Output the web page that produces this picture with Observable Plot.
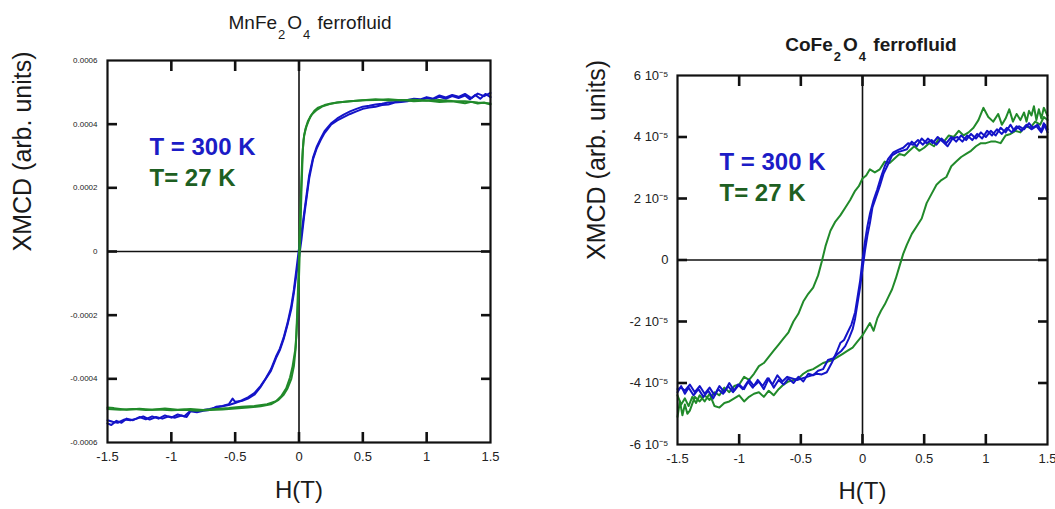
<!DOCTYPE html>
<html>
<head>
<meta charset="utf-8">
<script src="https://cdn.jsdelivr.net/npm/d3@7"></script>
<script src="https://cdn.jsdelivr.net/npm/@observablehq/plot@0.6"></script>
<style>
  body { margin: 0; background: #fff; }
  #wrap { position: relative; width: 1055px; height: 509px; font-family: "Liberation Sans", Arial, sans-serif; }
  #left, #right { position: absolute; top: 0; }
  #left { left: 0; }
  #right { left: 527px; }
  .title { position: absolute; font-size: 19px; line-height: 1; color: #1a1a1a; white-space: nowrap; transform: translateX(-50%); }
  .title sub { font-size: 13px; vertical-align: -10px; line-height: 0; margin: 0 2px 0 1px; }
</style>
</head>
<body>
<div id="wrap">
  <div id="left"></div>
  <div id="right"></div>
  <div class="title" style="left:310px; top:13px;">MnFe<sub>2</sub>O<sub>4</sub> ferrofluid</div>
  <div class="title" style="left:871px; top:35px; font-weight:bold;">CoFe<sub>2</sub>O<sub>4</sub> ferrofluid</div>
</div>
<script>
// ---------- Data (H in tesla, XMCD in units of the axis scale) ----------
const xTickValues = [-1.5, -1, -0.5, 0, 0.5, 1, 1.5];
const mnYTicks = [-6, -4, -2, 0, 2, 4, 6];        // x 1e-4
const coYTicks = [-6, -4, -2, 0, 2, 4, 6];        // x 1e-5
const labels300 = "T = 300 K";
const labels27 = "T= 27 K";

// Left panel: MnFe2O4, XMCD in units of 1e-4
const mn300Down = [
 [1.50,4.85],[1.46,4.95],[1.42,4.80],[1.38,4.92],[1.34,4.78],[1.30,4.90],[1.25,4.82],[1.20,4.88],[1.15,4.80],[1.10,4.86],
 [1.05,4.78],[1.00,4.82],[0.95,4.75],[0.90,4.78],[0.85,4.72],[0.80,4.70],[0.75,4.68],[0.70,4.62],[0.65,4.60],[0.60,4.55],
 [0.55,4.52],[0.50,4.48],[0.45,4.40],[0.40,4.32],[0.35,4.22],[0.30,4.12],[0.25,3.98],[0.20,3.72],[0.17,3.50],[0.14,3.25],
 [0.11,2.90],[0.08,2.30],[0.06,1.70],[0.04,1.10],[0.02,0.40],[0.00,-0.20],[-0.02,-0.70],[-0.04,-1.30],[-0.06,-1.80],[-0.09,-2.30],
 [-0.12,-2.75],[-0.15,-3.10],[-0.18,-3.35],[-0.22,-3.75],[-0.26,-4.00],[-0.30,-4.25],[-0.35,-4.50],[-0.40,-4.62],[-0.45,-4.70],[-0.50,-4.72],
 [-0.52,-4.62],[-0.55,-4.80],[-0.60,-4.85],[-0.65,-4.88],[-0.70,-4.98],[-0.75,-5.00],[-0.80,-5.05],[-0.85,-5.02],[-0.88,-5.20],[-0.92,-5.15],
 [-0.97,-5.22],[-1.02,-5.18],[-1.07,-5.25],[-1.12,-5.20],[-1.17,-5.28],[-1.22,-5.18],[-1.27,-5.25],[-1.32,-5.30],[-1.37,-5.28],[-1.42,-5.38],
 [-1.46,-5.35],[-1.50,-5.30]
];
const mn300Up = [
 [-1.50,-5.40],[-1.47,-5.45],[-1.43,-5.32],[-1.39,-5.38],[-1.35,-5.25],[-1.30,-5.30],[-1.25,-5.20],[-1.20,-5.27],[-1.15,-5.18],[-1.10,-5.25],
 [-1.05,-5.15],[-1.00,-5.22],[-0.95,-5.12],[-0.90,-5.18],[-0.85,-5.00],[-0.80,-5.02],[-0.75,-4.98],[-0.70,-4.95],[-0.65,-4.90],[-0.60,-4.86],
 [-0.55,-4.82],[-0.50,-4.76],[-0.45,-4.68],[-0.40,-4.58],[-0.35,-4.45],[-0.30,-4.22],[-0.26,-3.98],[-0.22,-3.70],[-0.18,-3.30],[-0.15,-3.05],
 [-0.12,-2.70],[-0.09,-2.25],[-0.06,-1.70],[-0.04,-1.20],[-0.02,-0.55],[0.00,0.10],[0.02,0.60],[0.04,1.20],[0.06,1.80],[0.08,2.40],
 [0.11,2.95],[0.14,3.30],[0.17,3.55],[0.20,3.78],[0.25,4.02],[0.30,4.18],[0.35,4.30],[0.40,4.40],[0.45,4.48],[0.50,4.55],
 [0.55,4.58],[0.60,4.62],[0.65,4.64],[0.70,4.68],[0.75,4.70],[0.80,4.74],[0.85,4.76],[0.90,4.80],[0.95,4.78],[1.00,4.85],
 [1.05,4.80],[1.10,4.90],[1.15,4.84],[1.20,4.92],[1.25,4.86],[1.30,4.95],[1.35,4.82],[1.40,4.96],[1.45,4.88],[1.50,4.98]
];
const mn27Down = [
 [1.50,4.62],[1.45,4.68],[1.40,4.65],[1.35,4.70],[1.30,4.66],[1.20,4.72],[1.10,4.70],[1.00,4.74],[0.90,4.72],[0.80,4.76],
 [0.70,4.74],[0.60,4.78],[0.50,4.75],[0.40,4.72],[0.30,4.68],[0.25,4.65],[0.20,4.60],[0.15,4.52],[0.12,4.42],[0.09,4.25],
 [0.06,3.95],[0.04,3.65],[0.03,3.20],[0.02,2.00],[0.01,0.50],[0.00,-0.80],[-0.01,-1.80],[-0.02,-2.60],[-0.03,-3.10],[-0.05,-3.60],
 [-0.07,-3.95],[-0.10,-4.30],[-0.14,-4.55],[-0.18,-4.70],[-0.25,-4.80],[-0.35,-4.85],[-0.45,-4.88],[-0.55,-4.92],[-0.65,-4.95],[-0.75,-4.98],
 [-0.85,-4.95],[-0.95,-4.97],[-1.05,-4.93],[-1.15,-4.97],[-1.25,-4.94],[-1.35,-4.97],[-1.45,-4.92],[-1.50,-4.90]
];
const mn27Up = [
 [-1.50,-4.95],[-1.40,-4.97],[-1.30,-4.95],[-1.20,-4.98],[-1.10,-4.96],[-1.00,-4.99],[-0.90,-4.97],[-0.80,-5.00],[-0.70,-4.98],[-0.60,-4.96],
 [-0.50,-4.93],[-0.40,-4.90],[-0.30,-4.86],[-0.22,-4.80],[-0.16,-4.66],[-0.12,-4.50],[-0.09,-4.30],[-0.06,-4.00],[-0.04,-3.60],[-0.025,-3.00],
 [-0.015,-2.00],[-0.005,-0.80],[0.005,0.60],[0.015,1.80],[0.025,2.90],[0.035,3.50],[0.05,3.85],[0.07,4.10],[0.10,4.30],[0.14,4.45],
 [0.18,4.55],[0.24,4.63],[0.30,4.68],[0.40,4.72],[0.50,4.75],[0.60,4.76],[0.70,4.78],[0.80,4.75],[0.90,4.77],[1.00,4.74],
 [1.10,4.76],[1.20,4.73],[1.30,4.72],[1.40,4.68],[1.50,4.65]
];

// Right panel: CoFe2O4, XMCD in units of 1e-5
const co300Down = [
 [1.50,4.15],[1.47,4.45],[1.45,4.20],[1.42,4.40],[1.38,4.30],[1.35,4.45],[1.31,4.25],[1.27,4.35],[1.23,4.20],[1.20,4.40],
 [1.16,4.15],[1.12,4.30],[1.08,4.05],[1.04,4.20],[1.00,4.00],[0.96,4.15],[0.92,3.95],[0.88,4.10],[0.84,3.90],[0.80,4.05],
 [0.76,3.85],[0.72,4.00],[0.68,3.80],[0.64,3.95],[0.60,3.75],[0.56,3.90],[0.52,3.80],[0.48,3.95],[0.44,3.70],[0.40,3.85],
 [0.36,3.60],[0.32,3.55],[0.28,3.50],[0.24,3.40],[0.20,3.05],[0.17,2.80],[0.14,2.40],[0.11,2.05],[0.08,1.70],[0.06,1.20],
 [0.04,0.80],[0.02,0.30],[0.00,-0.30],[-0.02,-0.90],[-0.04,-1.40],[-0.06,-1.90],[-0.08,-2.25],[-0.11,-2.55],[-0.14,-2.80],[-0.17,-2.95],
 [-0.20,-3.05],[-0.24,-3.20],[-0.28,-3.25],[-0.32,-3.55],[-0.36,-3.60],[-0.40,-3.75],[-0.44,-3.70],[-0.48,-3.95],[-0.52,-3.80],[-0.56,-4.00],
 [-0.60,-3.85],[-0.64,-4.05],[-0.68,-3.90],[-0.72,-4.15],[-0.76,-3.85],[-0.80,-4.20],[-0.84,-3.95],[-0.88,-4.10],[-0.92,-3.90],[-0.96,-4.20],
 [-1.00,-4.05],[-1.04,-4.25],[-1.08,-4.00],[-1.12,-4.30],[-1.16,-4.10],[-1.20,-4.40],[-1.24,-4.15],[-1.28,-4.35],[-1.32,-4.10],[-1.36,-4.30],
 [-1.40,-4.05],[-1.44,-4.25],[-1.47,-4.15],[-1.50,-4.20]
];
const co300Up = [
 [-1.50,-4.30],[-1.47,-4.10],[-1.44,-4.35],[-1.41,-4.15],[-1.37,-4.40],[-1.33,-4.20],[-1.29,-4.45],[-1.25,-4.25],[-1.21,-4.50],[-1.17,-4.20],
 [-1.13,-4.35],[-1.09,-4.10],[-1.05,-4.30],[-1.01,-4.05],[-0.97,-4.20],[-0.93,-3.95],[-0.89,-4.15],[-0.85,-3.90],[-0.81,-4.10],[-0.77,-3.85],
 [-0.73,-4.05],[-0.69,-3.75],[-0.65,-3.95],[-0.61,-3.80],[-0.57,-3.85],[-0.53,-3.90],[-0.49,-3.85],[-0.45,-3.80],[-0.41,-3.75],[-0.37,-3.70],
 [-0.33,-3.72],[-0.29,-3.65],[-0.25,-3.35],[-0.21,-3.00],[-0.18,-2.70],[-0.15,-2.60],[-0.12,-2.35],[-0.09,-2.10],[-0.06,-1.70],[-0.04,-1.20],
 [-0.02,-0.70],[0.00,0.00],[0.02,0.60],[0.04,1.10],[0.06,1.50],[0.09,1.95],[0.12,2.30],[0.15,2.70],[0.18,3.05],[0.21,3.30],
 [0.25,3.50],[0.29,3.58],[0.33,3.65],[0.37,3.80],[0.41,3.75],[0.45,3.90],[0.49,3.75],[0.53,3.95],[0.57,3.80],[0.61,4.00],
 [0.65,3.85],[0.69,3.70],[0.73,3.95],[0.77,4.00],[0.81,3.85],[0.85,4.05],[0.89,3.90],[0.93,4.10],[0.97,3.95],[1.01,4.20],
 [1.05,4.05],[1.09,4.25],[1.13,4.10],[1.17,4.30],[1.21,4.15],[1.25,4.35],[1.29,4.20],[1.33,4.40],[1.37,4.25],[1.41,4.35],
 [1.45,4.15],[1.48,4.40],[1.50,4.25]
];
const co27Down = [
 [1.50,4.70],[1.47,4.95],[1.45,4.60],[1.43,4.90],[1.41,4.55],[1.39,5.00],[1.37,4.70],[1.35,4.85],[1.33,4.50],[1.31,4.80],
 [1.28,4.55],[1.25,4.75],[1.22,4.50],[1.19,4.90],[1.16,4.60],[1.13,4.40],[1.10,4.75],[1.06,4.50],[1.02,4.65],[0.98,4.95],
 [0.94,4.55],[0.90,4.30],[0.86,4.15],[0.82,4.05],[0.78,4.20],[0.74,4.00],[0.70,4.05],[0.66,3.85],[0.62,3.95],[0.58,3.70],
 [0.54,3.80],[0.50,3.65],[0.46,3.55],[0.42,3.70],[0.38,3.55],[0.34,3.40],[0.30,3.45],[0.26,3.30],[0.22,3.15],[0.18,3.20],
 [0.14,2.95],[0.10,2.85],[0.06,2.95],[0.03,2.75],[0.00,2.65],[-0.03,2.40],[-0.06,2.25],[-0.10,1.95],[-0.14,1.70],[-0.18,1.45],
 [-0.22,1.25],[-0.26,0.95],[-0.30,0.45],[-0.33,-0.05],[-0.36,-0.50],[-0.40,-0.90],[-0.44,-1.10],[-0.48,-1.35],[-0.52,-1.75],[-0.56,-2.00],
 [-0.60,-2.35],[-0.64,-2.55],[-0.68,-2.75],[-0.72,-2.95],[-0.76,-3.15],[-0.80,-3.35],[-0.84,-3.45],[-0.88,-3.70],[-0.92,-3.90],[-0.96,-3.80],
 [-1.00,-4.05],[-1.04,-4.10],[-1.08,-4.30],[-1.12,-4.15],[-1.16,-4.40],[-1.20,-4.30],[-1.24,-4.55],[-1.28,-4.40],[-1.32,-4.60],[-1.36,-4.45],
 [-1.40,-4.90],[-1.42,-5.00],[-1.44,-4.70],[-1.46,-5.05],[-1.48,-4.60],[-1.50,-5.10]
];
const co27Up = [
 [-1.50,-4.40],[-1.47,-4.70],[-1.44,-4.50],[-1.41,-4.75],[-1.38,-4.45],[-1.35,-4.65],[-1.32,-4.40],[-1.28,-4.60],[-1.24,-4.35],[-1.20,-4.75],
 [-1.16,-4.80],[-1.12,-4.65],[-1.08,-4.60],[-1.04,-4.50],[-1.00,-4.40],[-0.96,-4.60],[-0.92,-4.45],[-0.88,-4.35],[-0.84,-4.30],[-0.80,-4.45],
 [-0.76,-4.25],[-0.72,-4.40],[-0.68,-4.20],[-0.64,-4.05],[-0.60,-3.95],[-0.56,-3.90],[-0.52,-3.85],[-0.48,-3.70],[-0.44,-3.60],[-0.40,-3.55],
 [-0.36,-3.45],[-0.32,-3.35],[-0.28,-3.30],[-0.24,-3.25],[-0.20,-3.15],[-0.16,-3.05],[-0.12,-2.95],[-0.08,-2.85],[-0.04,-2.65],[0.00,-2.45],
 [0.03,-2.25],[0.06,-2.05],[0.09,-2.30],[0.12,-1.90],[0.15,-1.65],[0.18,-1.45],[0.21,-1.20],[0.24,-0.95],[0.27,-0.60],[0.30,-0.20],
 [0.33,0.20],[0.36,0.50],[0.40,0.85],[0.44,1.10],[0.48,1.35],[0.52,1.85],[0.56,2.15],[0.60,2.45],[0.64,2.60],[0.68,2.70],
 [0.72,3.05],[0.76,3.20],[0.80,3.35],[0.84,3.45],[0.88,3.55],[0.92,3.70],[0.96,3.80],[1.00,3.80],[1.04,3.85],[1.08,3.85],
 [1.12,3.80],[1.16,4.05],[1.20,4.10],[1.24,4.20],[1.28,4.15],[1.32,4.35],[1.36,4.30],[1.40,4.50],[1.44,4.40],[1.47,4.65],
 [1.50,4.55]
];

// ---------- Styling ----------
const BLUE = "#1414c8", GREEN = "#218a2a";
const BLUE_TXT = "#1c1cc6", GREEN_TXT = "#1e5f22";
const FONT = "'Liberation Sans', Arial, sans-serif";
const xInner = xTickValues.filter(d => Math.abs(d) < 1.5);
const TICK = 10;

function panel({curves, yTicks, yFormat, yFontSize, width, marginLeft, marginRight, marginTop, marginBottom, yLabelDx, xLabelDy, yPad}) {
  const height = 509;
  const yInner = yTicks.filter(d => Math.abs(d) < 6);
  const tickStyle = {stroke: "#111", strokeWidth: 2.6, tickFormat: () => "", label: null, tickSize: -TICK};
  return Plot.plot({
    width, height, marginLeft, marginRight, marginTop, marginBottom,
    style: {fontFamily: FONT, background: "#fff", color: "#222"},
    x: {domain: [-1.5, 1.5]},
    y: {domain: [-6, 6]},
    marks: [
      Plot.ruleX([0], {stroke: "#111", strokeWidth: 1.6}),
      Plot.ruleY([0], {stroke: "#111", strokeWidth: 1.6}),
      ...curves.map(c => Plot.line(c.data, {x: d => d[0], y: d => d[1], stroke: c.color, strokeWidth: 2, strokeLinejoin: "round"})),
      Plot.frame({stroke: "#111", strokeWidth: 2.2}),
      // inward ticks on all four sides
      Plot.axisX({anchor: "top", ticks: xInner, ...tickStyle}),
      Plot.axisX({anchor: "bottom", ticks: xInner, ...tickStyle}),
      Plot.axisY({anchor: "left", ticks: yInner, ...tickStyle}),
      Plot.axisY({anchor: "right", ticks: yInner, ...tickStyle}),
      // tick labels
      Plot.axisX({anchor: "bottom", ticks: xTickValues, tickSize: 0, tickPadding: 9, fontSize: 13, tickFormat: d => String(d), label: null}),
      Plot.axisY({anchor: "left", ticks: yTicks, tickSize: 0, tickPadding: yPad, fontSize: yFontSize, tickFormat: yFormat, label: null}),
      Plot.text(["XMCD (arb. units)"], {frameAnchor: "left", dx: yLabelDx, rotate: -90, fontSize: 25, fill: "#1a1a1a"}),
      Plot.text(["H(T)"], {frameAnchor: "bottom", dy: xLabelDy, fontSize: 24, fill: "#1a1a1a"}),
      Plot.text([labels300], {frameAnchor: "top-left", dx: 42, dy: 77, textAnchor: "start", lineAnchor: "top", fontSize: 24, fontWeight: "bold", fill: BLUE_TXT}),
      Plot.text([labels27], {frameAnchor: "top-left", dx: 42, dy: 108, textAnchor: "start", lineAnchor: "top", fontSize: 24, fontWeight: "bold", fill: GREEN_TXT})
    ]
  });
}

const left = panel({
  curves: [
    {data: mn300Down, color: BLUE}, {data: mn300Up, color: BLUE},
    {data: mn27Down, color: GREEN}, {data: mn27Up, color: GREEN}
  ],
  yTicks: mnYTicks,
  yFormat: d => d === 0 ? "0" : (d * 1e-4).toFixed(4),
  yFontSize: 8, yPad: 10,
  width: 520, marginLeft: 107, marginRight: 30, marginTop: 60, marginBottom: 67,
  yLabelDx: -85, xLabelDy: 55
});
document.getElementById("left").appendChild(left);

const right = panel({
  curves: [
    {data: co27Down, color: GREEN}, {data: co27Up, color: GREEN},
    {data: co300Down, color: BLUE}, {data: co300Up, color: BLUE}
  ],
  yTicks: coYTicks,
  yFormat: d => d === 0 ? "0" : `${d} 10\u207B\u2075`,
  yFontSize: 13, yPad: 9,
  width: 528, marginLeft: 150, marginRight: 8, marginTop: 75, marginBottom: 65,
  yLabelDx: -81, xLabelDy: 54
});
document.getElementById("right").appendChild(right);
</script>
</body>
</html>
